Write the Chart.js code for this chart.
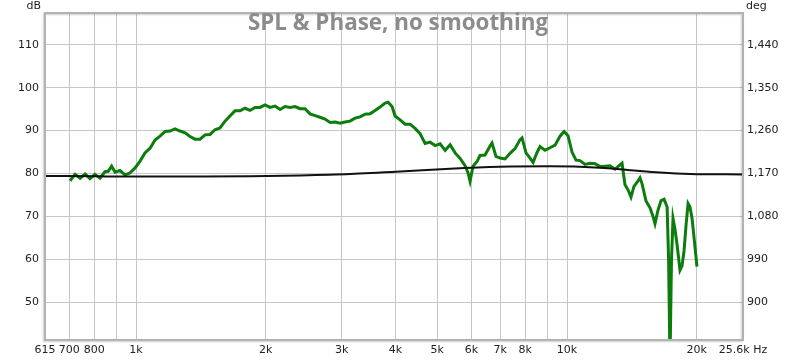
<!DOCTYPE html>
<html>
<head>
<meta charset="utf-8">
<script src="https://cdn.jsdelivr.net/npm/chart.js@4.4.0/dist/chart.umd.min.js"></script>
<style>
  html, body { margin: 0; padding: 0; background: #fff; }
  #wrap { width: 800px; height: 360px; }
</style>
</head>
<body>
<div id="wrap"><canvas id="myChart" width="800" height="360"></canvas></div>
<script>
// SPL trace (Hz / dB)
const splFreqs = [703,722,742,762,782,803,825,847,862,878,894,918,943,968,995,1022,1049,1078,1107,1137,
  1168,1199,1232,1265,1300,1335,1370,1408,1446,1485,1525,1566,1609,1652,1697,1743,1790,1839,1889,1940,
  1992,2046,2102,2159,2217,2277,2338,2402,2467,2534,2603,2673,2745,2820,2896,2974,3055,3138,3223,3310,
  3400,3492,3587,3684,3784,3843,3927,3991,4099,4210,4324,4441,4561,4685,4812,4943,5076,5214,5355,5500,
  5649,5800,5892,5956,6052,6183,6283,6453,6628,6698,6842,6991,7181,7375,7574,7780,7863,8033,8207,8340,
  8520,8657,8891,9132,9379,9633,9842,10054,10269,10492,10718,11008,11306,11612,11926,12249,12580,12921,13270,13414,
  13630,13850,14072,14299,14611,14766,14932,15248,15576,15830,15998,16261,16525,16796,17068,17203,17332,17473,17615,17801,
  17995,18283,18485,18685,18886,19090,19286,19502,19712,20020];
const splValues = [78.3,79.8,78.9,79.9,78.8,79.8,78.9,80.4,80.5,81.7,80.3,80.7,79.7,80.1,81.3,82.9,84.8,85.9,87.8,88.7,
  89.8,89.9,90.4,89.9,89.5,88.6,88.0,88.0,89.0,89.1,90.2,90.6,92.2,93.4,94.6,94.6,95.2,94.7,95.4,95.4,
  96.0,95.4,95.7,94.9,95.6,95.4,95.6,95.1,95.1,93.9,93.5,93.1,92.7,91.9,92.0,91.7,92.0,92.2,92.9,93.2,
  93.8,93.9,94.7,95.5,96.4,96.6,95.6,93.4,92.5,91.5,91.5,90.5,89.3,87.0,87.3,86.5,86.9,85.4,86.7,84.8,
  83.5,81.8,80.2,78.2,81.7,82.8,84.2,84.3,86.4,87.1,84.0,83.6,83.4,84.7,85.8,87.9,88.3,84.8,83.6,82.6,
  84.9,86.3,85.4,86.0,86.6,88.7,89.8,88.8,85.0,83.1,83.0,82.1,82.4,82.3,81.6,81.7,81.8,81.0,82.0,82.4,
  77.4,76.2,74.5,77.0,78.3,79.0,77.6,73.6,72.0,70.0,68.3,71.5,73.7,74.0,72.2,60,36,60,69.5,67.0,
  63.5,57.5,58.5,62.0,68.0,73.0,72.2,69.5,65.0,58.3];

// phase trace (Hz / deg)
const phaseFreqs = [615,825,1078,1408,1839,2402,3138,4099,5355,6991,9132,11926,13999,16431,19286,25600];
const phaseValues = [1165,1164,1163.5,1163.5,1164,1166,1169,1174,1180,1184,1185,1182,1177,1172,1169,1168];

const xTicks = [615,700,800,900,1000,2000,3000,4000,5000,6000,7000,8000,9000,10000,20000,25600];
const xTickLabels = ['615','700','800','','1k','2k','3k','4k','5k','6k','7k','8k','','10k','20k','25.6k Hz'];
const dbTicks = [50,60,70,80,90,100,110];
const degTicks = [900,990,1080,1170,1260,1350,1440];

const gridColor = '#c6c6c6';
const font = { family: 'DejaVu Sans', size: 11 };

const frame = {
  id: 'frame',
  afterDatasetsDraw(chart) {
    const { ctx, chartArea: a } = chart;
    ctx.save();
    ctx.shadowColor = 'rgba(0,0,0,0.2)';
    ctx.shadowBlur = 2;
    ctx.shadowOffsetX = -1;
    ctx.shadowOffsetY = 1;
    ctx.strokeStyle = '#b2b2b2';
    ctx.lineWidth = 2;
    ctx.strokeRect(a.left, a.top, a.right - a.left, a.bottom - a.top);
    ctx.restore();

    ctx.save();
    ctx.fillStyle = '#8c8c8c';
    // fit the title to the width it has in the picture
    let size = 20;
    ctx.font = 'bold ' + size + 'px "Open Sans"';
    const w = ctx.measureText('SPL & Phase, no smoothing').width;
    size = size * 300 / w;
    ctx.font = 'bold ' + size.toFixed(1) + 'px "Open Sans"';
    ctx.textAlign = 'center';
    ctx.textBaseline = 'middle';
    ctx.fillText('SPL & Phase, no smoothing', 398, 24);
    ctx.fillStyle = '#222';
    ctx.font = '11px "DejaVu Sans"';
    ctx.textAlign = 'right';
    ctx.fillText('dB', 41, 6);
    ctx.textAlign = 'left';
    ctx.fillText('deg', 746, 6);
    ctx.restore();
  }
};

const ctx = document.getElementById('myChart').getContext('2d');
const chart = new Chart(ctx, {
  type: 'line',
  data: {
    datasets: [{
      label: 'Phase',
      data: phaseFreqs.map((f, i) => ({ x: f, y: phaseValues[i] })),
      yAxisID: 'y2',
      borderColor: '#111',
      borderWidth: 2,
      pointRadius: 0,
      cubicInterpolationMode: 'monotone'
    }, {
      label: 'SPL',
      data: splFreqs.map((f, i) => ({ x: f, y: splValues[i] })),
      yAxisID: 'y',
      borderColor: '#0c7c0c',
      borderWidth: 3,
      pointRadius: 0,
      tension: 0
    }]
  },
  options: {
    responsive: false,
    animation: false,
    layout: { padding: { top: 13, left: 0, right: 0, bottom: 0 } },
    plugins: { legend: { display: false }, tooltip: { enabled: false }, title: { display: false } },
    scales: {
      x: {
        type: 'logarithmic',
        min: 615,
        max: 25600,
        afterBuildTicks: s => { s.ticks = xTicks.map(v => ({ value: v })); },
        afterFit: s => { s.height = 20; },
        ticks: {
          autoSkip: false, maxRotation: 0, padding: 4, color: '#222', font,
          callback: (v, i) => xTickLabels[i]
        },
        grid: {
          drawTicks: false,
          color: c => (c.index === 0 || c.index === xTicks.length - 1) ? 'rgba(0,0,0,0)' : gridColor
        },
        border: { display: false }
      },
      y: {
        position: 'left',
        min: 41.2,
        max: 117.4,
        afterBuildTicks: s => { s.ticks = dbTicks.map(v => ({ value: v })); },
        afterFit: s => { s.width = 45; },
        ticks: { padding: 6, color: '#222', font },
        grid: { drawTicks: false, color: gridColor },
        border: { display: false }
      },
      y2: {
        position: 'right',
        min: 820.8,
        max: 1506.6,
        afterBuildTicks: s => { s.ticks = degTicks.map(v => ({ value: v })); },
        afterFit: s => { s.width = 57; },
        ticks: { padding: 4, color: '#222', font, callback: v => v.toLocaleString('en-US') },
        grid: { drawOnChartArea: false, drawTicks: false },
        border: { display: false }
      }
    }
  },
  plugins: [frame]
});
</script>
</body>
</html>
